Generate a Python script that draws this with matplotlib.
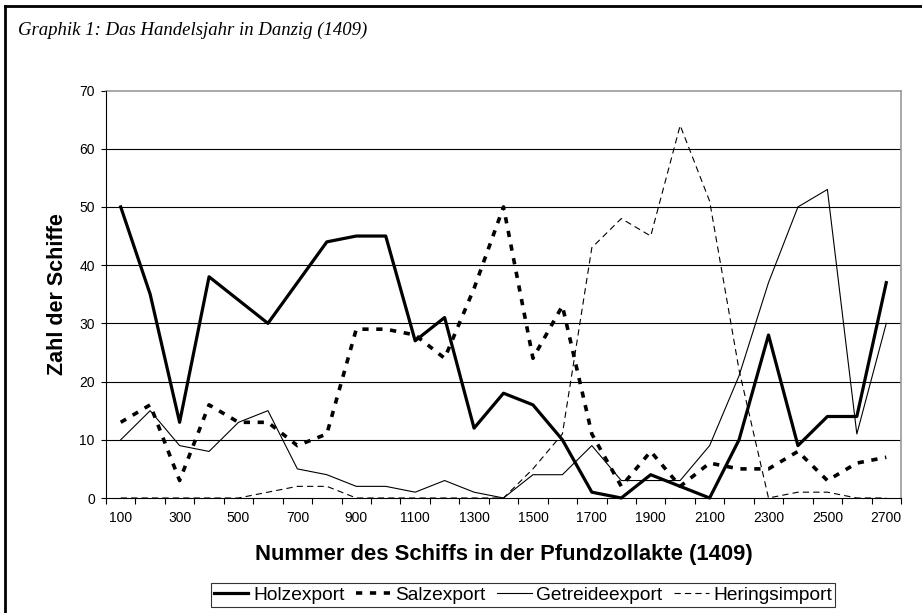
import matplotlib
matplotlib.use("Agg")
import matplotlib.pyplot as plt
from matplotlib.lines import Line2D

# Nummer des Schiffs (Kategorien)
schiff_nr = [100, 200, 300, 400, 500, 600, 700, 800, 900, 1000, 1100, 1200, 1300, 1400,
             1500, 1600, 1700, 1800, 1900, 2000, 2100, 2200, 2300, 2400, 2500, 2600, 2700]

holz = [50, 35, 13, 38, 34, 30, 37, 44, 45, 45, 27, 31, 12, 18,
        16, 10, 1, 0, 4, 2, 0, 10, 28, 9, 14, 14, 37]
salz = [13, 16, 3, 16, 13, 13, 9, 11, 29, 29, 28, 24, 36, 50,
        24, 33, 11, 2, 8, 2, 6, 5, 5, 8, 3, 6, 7]
getreide = [10, 15, 9, 8, 13, 15, 5, 4, 2, 2, 1, 3, 1, 0,
            4, 4, 9, 3, 3, 3, 9, 21, 37, 50, 53, 11, 30]
hering = [0, 0, 0, 0, 0, 1, 2, 2, 0, 0, 0, 0, 0, 0,
          5, 11, 43, 48, 45, 64, 51, 22, 0, 1, 1, 0, 0]

tick_labels = [100, 300, 500, 700, 900, 1100, 1300, 1500, 1700, 1900, 2100, 2300, 2500, 2700]
y_ticks = [0, 10, 20, 30, 40, 50, 60, 70]

plt.rcParams['font.family'] = ['Liberation Sans', 'DejaVu Sans']
plt.rcParams['lines.scale_dashes'] = False

fig = plt.figure(figsize=(9.22, 6.13), dpi=100)
ax = fig.add_axes([106 / 922, 1 - 498 / 613, (901 - 106) / 922, (498 - 90.5) / 613])

# gridlines
for v in y_ticks[1:-1]:
    ax.axhline(v, color='black', lw=0.8, zorder=1)

ax.plot(schiff_nr, holz, color='black', lw=2.3, label='Holzexport', zorder=3, clip_on=False)
ax.plot(schiff_nr, salz, color='black', lw=2.6, dashes=(4.5, 5.5), label='Salzexport',
        zorder=3, clip_on=False)
ax.plot(schiff_nr, getreide, color='black', lw=0.8, label='Getreideexport', zorder=3,
        clip_on=False)
ax.plot(schiff_nr, hering, color='black', lw=0.8, dashes=(4.5, 3), label='Heringsimport',
        zorder=3, clip_on=False)

ax.set_xlim(50, 2750)
ax.set_ylim(0, 70)
ax.set_yticks(y_ticks)
ax.set_xticks(tick_labels)
ax.set_xticks(list(range(50, 2751, 100)), minor=True)
ax.tick_params(axis='x', which='major', length=0, pad=9, labelsize=10)
ax.tick_params(axis='x', which='minor', length=4, width=0.8, direction='out')
ax.tick_params(axis='y', length=3.6, width=0.8, pad=4.5, labelsize=10)

for s in ['top', 'right']:
    ax.spines[s].set_color('#999999')
    ax.spines[s].set_linewidth(1.2)
for s in ['left', 'bottom']:
    ax.spines[s].set_color('black')
    ax.spines[s].set_linewidth(0.8)
    ax.spines[s].set_zorder(4)

ax.set_ylabel('Zahl der Schiffe', fontsize=15.5, fontweight='bold', labelpad=8)
ax.set_xlabel('Nummer des Schiffs in der Pfundzollakte (1409)', fontsize=15.8,
              fontweight='bold', labelpad=14)

leg = fig.legend(loc='center', bbox_to_anchor=(523 / 922, 1 - 595 / 613), ncol=4,
                 fontsize=13.8, frameon=True, fancybox=False, handlelength=1.8,
                 handletextpad=0.25, columnspacing=0.6, borderpad=0.15)
leg.get_frame().set_edgecolor('black')
leg.get_frame().set_linewidth(0.8)

fig.text(18 / 922, 1 - 30 / 613, 'Graphik 1: Das Handelsjahr in Danzig (1409)',
         family='Liberation Serif', style='italic', fontsize=13.5, va='center', ha='left')

# Rahmen
fig.add_artist(Line2D([5 / 922, 1], [1 - 6 / 613, 1 - 6 / 613], color='black', lw=2,
                      transform=fig.transFigure))
fig.add_artist(Line2D([5 / 922, 5 / 922], [0, 1 - 6 / 613], color='black', lw=2,
                      transform=fig.transFigure))

fig.savefig('out.png', dpi=100)
